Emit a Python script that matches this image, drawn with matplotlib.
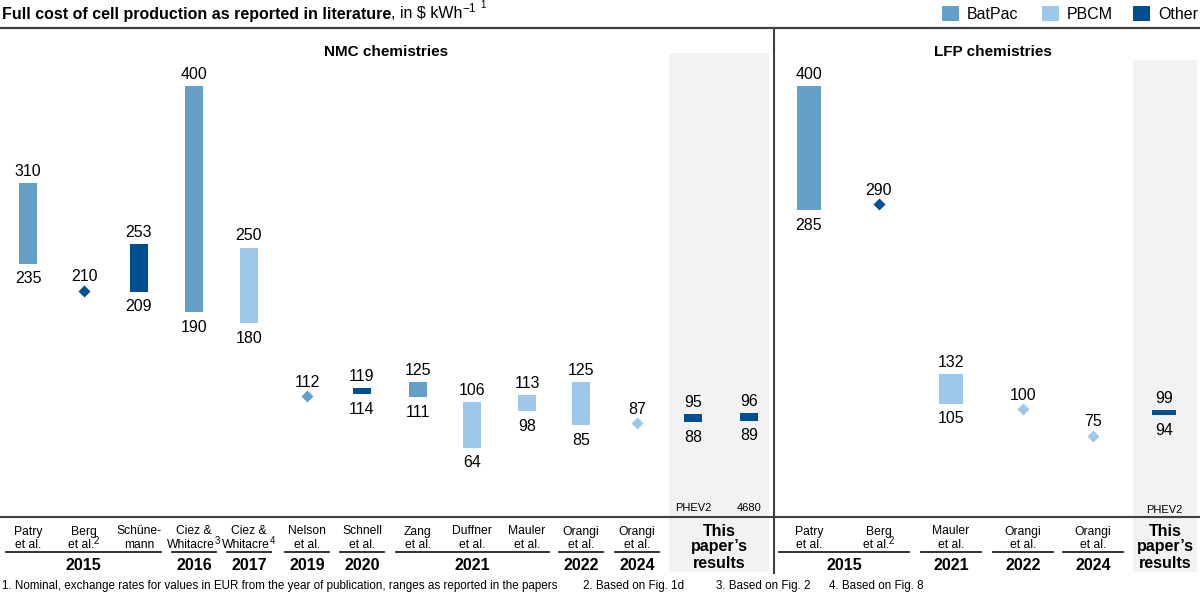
import matplotlib
matplotlib.use("Agg")
import matplotlib.pyplot as plt
from matplotlib.patches import Rectangle

plt.rcParams['font.family'] = ['Liberation Sans', 'DejaVu Sans']

# source model colours
colors = {"BatPac": "#64A0C8", "PBCM": "#9DC8EA", "Other": "#00508F"}

# --- NMC literature values ($/kWh) ---
nmc_names = ["Patry\net al.", "Berg\net al.", "Schüne-\nmann", "Ciez &\nWhitacre",
             "Ciez &\nWhitacre", "Nelson\net al.", "Schnell\net al.", "Zang\net al.",
             "Duffner\net al.", "Mauler\net al.", "Orangi\net al.", "Orangi\net al."]
nmc_notes = ["", "2", "", "3", "4", "", "", "", "", "", "", ""]
nmc_years = [2015, 2015, 2015, 2016, 2017, 2019, 2020, 2021, 2021, 2021, 2022, 2024]
nmc_source = ["BatPac", "Other", "Other", "BatPac", "PBCM", "BatPac", "Other", "BatPac",
              "PBCM", "PBCM", "PBCM", "PBCM"]
nmc_low = [235, 210, 209, 190, 180, 112, 114, 111, 64, 98, 85, 87]
nmc_high = [310, 210, 253, 400, 250, 112, 119, 125, 106, 113, 125, 87]

# this paper, NMC
own_nmc_variants = ["PHEV2", "4680"]
own_nmc_low = [88, 89]
own_nmc_high = [95, 96]

# --- LFP literature values ---
lfp_names = ["Patry\net al.", "Berg\net al.", "Mauler\net al.", "Orangi\net al.", "Orangi\net al."]
lfp_notes = ["", "2", "", "", ""]
lfp_years = [2015, 2015, 2021, 2022, 2024]
lfp_source = ["BatPac", "Other", "PBCM", "PBCM", "PBCM"]
lfp_low = [285, 290, 105, 100, 75]
lfp_high = [400, 290, 132, 100, 75]

# this paper, LFP
own_lfp_variants = ["PHEV2"]
own_lfp_low = [94]
own_lfp_high = [99]

footnotes = ["1. Nominal, exchange rates for values in EUR from the year of publication, ranges as reported in the papers",
             "2. Based on Fig. 1d", "3. Based on Fig. 2", "4. Based on Fig. 8"]

# column positions (pixels across the figure)
nmc_x = [28, 84, 139, 194, 249, 307, 362, 418, 472, 527, 581, 637]
own_nmc_x = [693, 749]
lfp_x = [809, 879, 951, 1023, 1093]
own_lfp_x = [1164]

W, H = 1200, 593
fig = plt.figure(figsize=(W / 100, H / 100), dpi=100)
renderer = fig.canvas.get_renderer()

# layout layer in pixel coordinates
bg = fig.add_axes([0, 0, 1, 1])
bg.set_xlim(0, W)
bg.set_ylim(H, 0)
bg.axis('off')

# data layer: y = 0 sits on the baseline at pixel 516.5, 1.076 px per $/kWh
zero_px, top_px, px_per_unit = 516.5, 52, 1.076
ax = fig.add_axes([0, (H - zero_px) / H, 1, (zero_px - top_px) / H])
ax.set_xlim(0, W)
ax.set_ylim(0, (zero_px - top_px) / px_per_unit)
ax.axis('off')
ax.patch.set_visible(False)

dark = "#404040"


def width_of(t):
    return t.get_window_extent(renderer).width


def text_sup(x, y, base, sup, fs, rise, ha='center'):
    # base text followed by a raised, smaller superscript
    tb = bg.text(0, y, base, fontsize=fs, va='baseline')
    if not sup:
        tb.set_ha(ha)
        tb.set_x(x)
        return
    ts = bg.text(0, y - rise, sup, fontsize=fs * 0.8, va='baseline')
    wb, ws = width_of(tb), width_of(ts)
    left = x - (wb + ws) / 2 if ha == 'center' else x
    tb.set_x(left)
    ts.set_x(left + wb - 1)


# grey boxes for this paper's results
bg.add_patch(Rectangle((669, 53), 100, 519, color="#F2F2F2", lw=0, zorder=0))
bg.add_patch(Rectangle((1133, 60), 64, 512, color="#F2F2F2", lw=0, zorder=0))

# title
t = bg.text(2, 18.5, "Full cost of cell production as reported in literature",
            fontsize=11.5, fontweight='bold', va='baseline')
x_end = 2 + width_of(t)
t2 = bg.text(x_end, 18.5, ", in $ kWh", fontsize=11.5, va='baseline')
x_end += width_of(t2)
t3 = bg.text(x_end, 12.5, "\u22121", fontsize=8.5, va='baseline')
x_end += width_of(t3) + 4
bg.text(x_end, 8.5, "1", fontsize=7, va='baseline')
bg.plot([0, W], [28, 28], color=dark, lw=1.6)

# legend
for sx, name in zip([942, 1042, 1133], ["BatPac", "PBCM", "Other"]):
    bg.add_patch(Rectangle((sx, 6), 17, 15, color=colors[name], lw=0))
    bg.text(sx + 25, 18.7, name, fontsize=11.5, va='baseline')

# separator and section titles
bg.plot([774, 774], [28, 573], color=dark, lw=1.5)
bg.text(386, 55.5, "NMC chemistries", fontsize=11, fontweight='bold', ha='center', va='baseline')
bg.text(993, 55.5, "LFP chemistries", fontsize=11, fontweight='bold', ha='center', va='baseline')

ax.axhline(0, color=dark, lw=1.5, clip_on=False)


def draw_marks(xs, lows, highs, sources, width):
    for x, lo, hi, src in zip(xs, lows, highs, sources):
        c = colors[src]
        if lo == hi:
            ax.plot(x, lo, marker='D', ms=6, color=c, mec='none')
            ax.annotate(str(lo), (x, lo), xytext=(0, 6.7), textcoords='offset points',
                        ha='center', va='baseline', fontsize=11.5)
        else:
            ax.bar(x, hi - lo, bottom=lo, width=width, color=c, lw=0)
            ax.annotate(str(hi), (x, hi), xytext=(0, 5.3), textcoords='offset points',
                        ha='center', va='baseline', fontsize=11.5)
            ax.annotate(str(lo), (x, lo), xytext=(0, -14.2), textcoords='offset points',
                        ha='center', va='baseline', fontsize=11.5)


draw_marks(nmc_x, nmc_low, nmc_high, nmc_source, 18)
draw_marks(own_nmc_x, own_nmc_low, own_nmc_high, ["Other"] * len(own_nmc_x), 18)
draw_marks(lfp_x, lfp_low, lfp_high, lfp_source, 24)
draw_marks(own_lfp_x, own_lfp_low, own_lfp_high, ["Other"] * len(own_lfp_x), 24)

# variant labels inside the grey boxes
for x, v in zip(own_nmc_x, own_nmc_variants):
    bg.text(x, 511, v, fontsize=8, ha='center', va='baseline')
for x, v in zip(own_lfp_x, own_lfp_variants):
    bg.text(x, 513, v, fontsize=8, ha='center', va='baseline')


def draw_labels(xs, names, notes, years, hw):
    for x, name, note in zip(xs, names, notes):
        l1, l2 = name.split("\n")
        text_sup(x, 534.5, l1, "", 8.7, 0)
        text_sup(x, 548.5, l2, note, 8.7, 4.5)
    # year groups
    groups = []
    for x, yr in zip(xs, years):
        if groups and groups[-1][0] == yr:
            groups[-1][1].append(x)
        else:
            groups.append((yr, [x]))
    for yr, gx in groups:
        x0, x1 = min(gx) - hw, max(gx) + hw
        bg.plot([max(x0, 0), x1], [552, 552], color="#222222", lw=1.3)
        bg.text((x0 + x1) / 2, 569.5, str(yr), fontsize=11.5, fontweight='bold',
                ha='center', va='baseline')


draw_labels(nmc_x, nmc_names, nmc_notes, nmc_years, 22)
draw_labels(lfp_x, lfp_names, lfp_notes, lfp_years, 30)

for cx in [719, 1165]:
    for yb, s in zip([535.5, 551.5, 567.5], ["This", "paper’s", "results"]):
        bg.text(cx, yb, s, fontsize=11.5, fontweight='bold', ha='center', va='baseline')

# footnotes
for fx, s in zip([2, 583, 716, 829], footnotes):
    bg.text(fx, 589, s, fontsize=8.4, va='baseline')

fig.savefig("out.png", dpi=100)
